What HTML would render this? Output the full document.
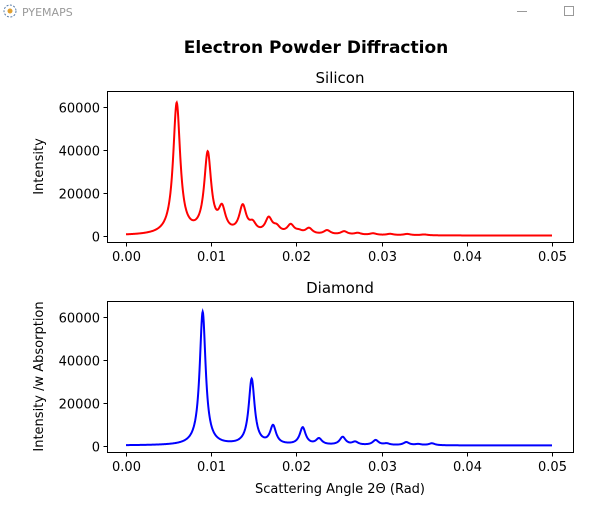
<!DOCTYPE html>
<html><head><meta charset="utf-8"><style>
body{margin:0;background:#fff;width:608px;height:504px;overflow:hidden;font-family:"DejaVu Sans","Liberation Sans",sans-serif}
svg text{font-family:"DejaVu Sans","Liberation Sans",sans-serif}
</style></head><body>
<svg id="chart" width="608" height="504" xmlns="http://www.w3.org/2000/svg">
<g>
<circle cx="10" cy="11" r="6" fill="none" stroke="#5a7da8" stroke-width="1" stroke-dasharray="2 1.5"/>
<circle cx="10" cy="11" r="2.5" fill="#e0a030"/>
<text x="22" y="16" font-size="11" fill="#999" font-family="Liberation Sans">PYEMAPS</text>
<line x1="517" y1="11.5" x2="527" y2="11.5" stroke="#999"/>
<rect x="564.5" y="6.5" width="9" height="9" fill="none" stroke="#999"/>
</g>
<text x="316" y="53" font-size="17" font-weight="bold" text-anchor="middle">Electron Powder Diffraction</text>
<g id="top"></g>
<g id="bot"></g>
</svg>
<script>
const xTicks=[0,0.01,0.02,0.03,0.04,0.05];
const xTickLabels=["0.00","0.01","0.02","0.03","0.04","0.05"];
const yTicks=[0,20000,40000,60000];
const yTickLabels=["0","20000","40000","60000"];
const siPeakPos=[0.00595,0.00959,0.01127,0.0137,0.01487,0.01675,0.01768,0.01933,0.0203,0.02148,0.0236,0.0256,0.0272,0.029,0.031,0.033,0.035];
const siPeakInt=[61000,37000,10500,12500,4000,7000,2800,4200,1100,2800,2000,1600,900,800,600,600,400];
const diPeakPos=[0.0090,0.01475,0.01726,0.02074,0.02265,0.02543,0.0269,0.0293,0.0306,0.0329,0.0343,0.0359];
const diPeakInt=[62000,30500,8500,8000,2800,3700,1400,2300,700,1400,500,900];
const siBase=200, diBase=250, siWidth=0.0005, diWidth=0.00042;
const NS="http://www.w3.org/2000/svg";
function mk(p,t,a){const e=document.createElementNS(NS,t);for(const k in a)e.setAttribute(k,a[k]);p.appendChild(e);return e;}
function panel(g,top,bottom,title,ylabel,pos,ints,base,w,color,xlabel,nameP){
  const L=107,R=573;
  const xs=v=>126+v*8520;
  const y0=bottom-6, y60=top+16;
  const ys=v=>y0+(y60-y0)*v/60000;
  const t=mk(g,'text',{x:(L+R)/2,y:top-8,'font-size':15,'text-anchor':'middle'});t.textContent=title;
  
  
  let d='';
  for(let i=0;i<=1200;i++){const x=i/1200*0.05;let y=base;for(let k=0;k<pos.length;k++){const dd=x-pos[k];y+=ints[k]*w*w/(dd*dd+w*w);}d+=(i?'L':'M')+xs(x).toFixed(2)+','+ys(y).toFixed(2);}
  const p=mk(g,'path',{d:d,fill:'none',stroke:color,'stroke-width':2});
  
  
  const fr=mk(g,'rect',{x:L+0.5,y:top+0.5,width:R-L,height:bottom-top,fill:'none',stroke:'#000','stroke-width':1});
  
  
  xTicks.forEach((v,i)=>{const x=Math.round(xs(v))+0.5;mk(g,'line',{x1:x,x2:x,y1:bottom+0.5,y2:bottom+4.5,stroke:'#000'});
    const tx=mk(g,'text',{x:x,y:bottom+19,'font-size':13,'text-anchor':'middle'});tx.textContent=xTickLabels[i];
    
    });
  yTicks.forEach((v,i)=>{const y=Math.round(ys(v))+0.5;mk(g,'line',{x1:L-3.5,x2:L+0.5,y1:y,y2:y,stroke:'#000'});
    const tx=mk(g,'text',{x:L-7,y:y+5,'font-size':13,'text-anchor':'end'});tx.textContent=yTickLabels[i];
    
    });
  const cy=(top+bottom)/2;
  const yl=mk(g,'text',{x:43,y:cy,'font-size':13,'text-anchor':'middle',transform:'rotate(-90 43 '+cy+')'});yl.textContent=ylabel;
  
  
  if(xlabel){const xl=mk(g,'text',{x:(L+R)/2,y:bottom+41,'font-size':13,'text-anchor':'middle'});xl.textContent=xlabel;
    
    }
}
panel(document.getElementById('top'),91,242,'Silicon','Intensity',siPeakPos,siPeakInt,siBase,siWidth,'#ff0000',null,'silicon');
panel(document.getElementById('bot'),301,452,'Diamond','Intensity /w Absorption',diPeakPos,diPeakInt,diBase,diWidth,'#0000ff','Scattering Angle 2\u0398 (Rad)','diamond');
</script>
</body></html>
